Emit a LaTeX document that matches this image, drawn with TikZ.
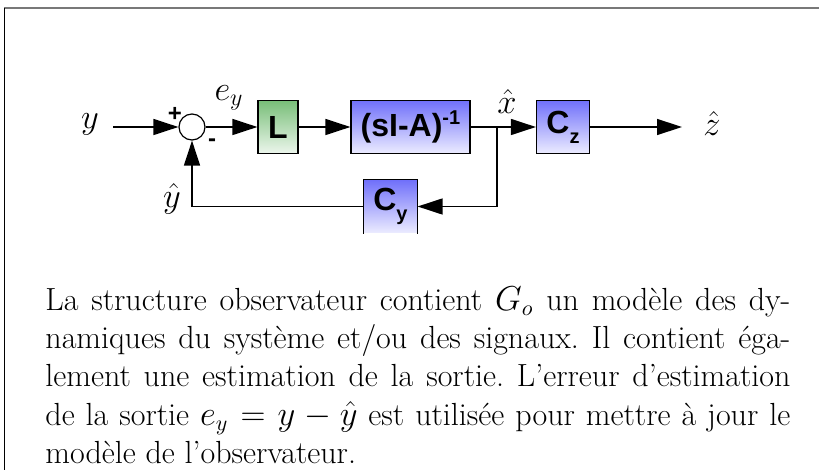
\documentclass[tikz,border=0pt]{standalone}
\usepackage{amsmath}
\usepackage{fontspec}
\newfontfamily\blockfont{Liberation Sans}
\usetikzlibrary{arrows.meta,positioning,calc}
\definecolor{gaintop}{RGB}{120,190,120}
\definecolor{gainbot}{RGB}{236,246,236}
\definecolor{plantop}{RGB}{112,112,250}
\definecolor{planbot}{RGB}{236,236,255}
\definecolor{framegray}{RGB}{120,120,120}
\tikzset{
  wire/.style={line width=0.7pt},
  sig/.style={font=\fontsize{18}{18}\selectfont},
  sgn/.style={font=\blockfont\bfseries\fontsize{12}{12}\selectfont, inner sep=0pt},
  gainbox/.style={draw, line width=0.6pt, top color=gaintop, bottom color=gainbot,
    font=\blockfont\bfseries\fontsize{16}{16}\selectfont, inner sep=0pt,
    minimum height=26.5pt},
  planbox/.style={gainbox, top color=plantop, bottom color=planbot},
  sumnode/.style={draw, circle, line width=0.6pt, minimum size=13pt, inner sep=0pt}
}
\newcommand{\lowsub}[1]{\raisebox{-5pt}{\fontsize{10}{10}\selectfont#1}}
\begin{document}
\begin{tikzpicture}[x=0.5pt, y=-0.5pt, >={Triangle[length=12.5pt,width=8pt]}]
\useasboundingbox (0,0) rectangle (819,470);
% cadre
\draw[framegray, line width=1pt] (4,8) -- (819,8);
\draw[line width=0.5pt] (4,8) -- (4,470);

% blocs
\node[sumnode] (sum) at (192,127) {};
\node[gainbox, minimum width=20pt] (L) at (278,127) {L};
\node[planbox, minimum width=59.5pt] (inv) at (410.5,127)
  {(sI-A)\raisebox{6pt}{\fontsize{10}{10}\selectfont -1}};
\node[planbox, minimum width=26.5pt] (Cz) at (563,127) {C\lowsub{z}};
\node[planbox, draw=none, minimum width=26.5pt] (Cy) at (390.5,206.5) {C\lowsub{y}};
\draw[line width=0.6pt] (Cy.south west) |- (Cy.north east) -- (Cy.south east);

% signaux
\node[sig] (yin) at (90,124) {$y$};
\node[sig] (ey) at (229,98) {$e_y$};
\node[sig] (xh) at (507,102) {$\hat{x}$};
\node[sig] (zh) at (712,124) {$\hat{z}$};
\node[sig] (yh) at (172,199) {$\hat{y}$};
\node[sgn] (plus) at (175,114) {+};
\node[sgn] (minus) at (212,143) {-};
\coordinate (ystart) at (113,127);
\coordinate (branch) at (497,127);
\coordinate (zend) at (682,127);

% liaisons
\draw[wire,->] (ystart) -- (sum.west);
\draw[wire,->] (sum.east) -- (L.west);
\draw[wire,->] (L.east) -- (inv.west);
\draw[wire] (inv.east) -- (branch);
\draw[wire,->] (branch) -- (Cz.west);
\draw[wire,->] (Cz.east) -- (zend);
\draw[wire,->] (branch) |- (Cy.east);
\draw[wire,->] (Cy.west) -| (sum.south);

% texte
\node[anchor=base west, inner sep=0pt, text width=372.5pt, align=justify,
  font=\frenchspacing\fontsize{16}{19.25}\selectfont] (txt) at (45,310)
  {La structure observateur contient $G_o$ un mod\`ele des dy-\linebreak
   namiques du syst\`eme et/ou des signaux. Il contient \'ega-\linebreak
   lement une estimation de la sortie. L'erreur d'estimation\linebreak
   de la sortie $e_y=y-\hat{y}$ est utilis\'ee pour mettre \`a jour le\linebreak
   mod\`ele de l'observateur.};
\end{tikzpicture}
\end{document}
